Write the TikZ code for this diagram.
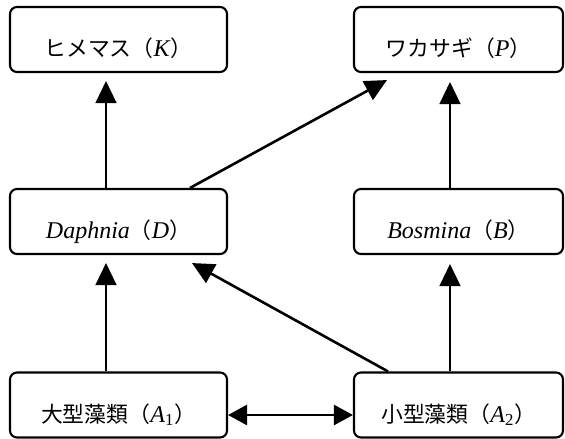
\documentclass[tikz,border=0pt]{standalone}
\usepackage{fontspec}
\setmainfont{Liberation Serif}
\newfontfamily\jp[Scale=0.91]{Noto Sans CJK JP}
\usetikzlibrary{arrows.meta}
\begin{document}
\begin{tikzpicture}[x=1pt,y=-1pt,
  box/.style={draw, line width=2.1pt, rounded corners=7pt, minimum height=65pt,
    text height=34pt, text depth=0pt, inner sep=0pt,
    font=\fontsize{24pt}{28pt}\selectfont},
  lbox/.style={box, minimum width=217pt},
  rbox/.style={box, minimum width=209pt},
  arr/.style={-{Triangle[length=22pt,width=21pt]}},
  dbl/.style={{Triangle[length=19pt,width=20pt]}-{Triangle[length=19pt,width=20pt]}},
  vline/.style={line width=1.4pt},
  dline/.style={line width=2.6pt}
]
\useasboundingbox (0,0) rectangle (565,439);

\node[lbox] (K)  at (118.5,39.5)  {{\jp ヒメマス（}\textit{K}{\jp ）}};
\node[rbox] (P)  at (458.5,39.5)  {{\jp ワカサギ（}\textit{P}{\jp ）}};
\node[lbox] (D)  at (118.5,221.5) {\textit{Daphnia}{\jp （}\textit{D}{\jp ）}};
\node[rbox] (B)  at (458.5,221.5) {\textit{Bosmina}{\jp （}\textit{B}{\jp ）}};
\node[lbox] (A1) at (118.5,405)   {{\jp 大型藻類（}\textit{A}\textsubscript{1}{\jp ）}};
\node[rbox] (A2) at (458.5,405)   {{\jp 小型藻類（}\textit{A}\textsubscript{2}{\jp ）}};

\draw[vline,arr] ([xshift=-12.5pt]D.north) -- ([xshift=-12.5pt,yshift=-8pt]K.south);
\draw[vline,arr] ([xshift=-12.5pt]A1.north) -- ([xshift=-12.5pt,yshift=-8pt]D.south);
\draw[vline,arr] ([xshift=-8.5pt]B.north) -- ([xshift=-8.5pt,yshift=-9pt]P.south);
\draw[vline,arr] ([xshift=-8.5pt]A2.north) -- ([xshift=-8.5pt,yshift=-9pt]B.south);

\draw[dline,arr] ([xshift=71.5pt]D.north) -- ([xshift=-71.5pt,yshift=-7pt]P.south);
\draw[dline,arr] ([xshift=-70.5pt]A2.north) -- ([xshift=73.5pt,yshift=-8pt]D.south);

\draw[dline,dbl] ([yshift=-10pt]A1.east) -- ([yshift=-10pt]A2.west);
\end{tikzpicture}
\end{document}
